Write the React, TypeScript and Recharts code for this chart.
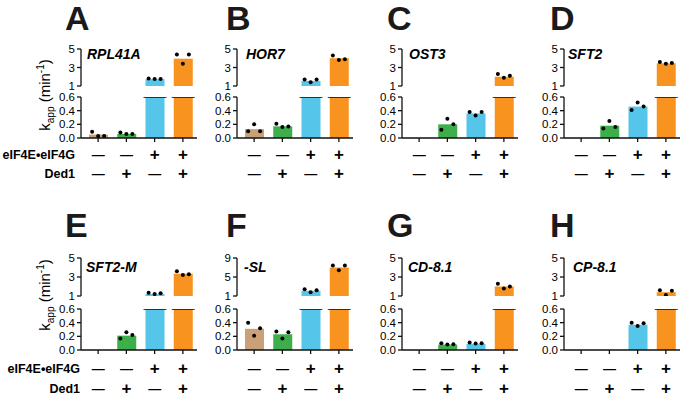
import React from 'react';
import { ComposedChart, Bar, Scatter, XAxis, YAxis, Cell } from 'recharts';

// conditions along x (eIF4E•eIF4G / Ded1)
const conditions = ['none', 'ded1', 'eif4', 'both'];
const eif4Row = ['—', '—', '+', '+'];
const ded1Row = ['—', '+', '—', '+'];
const barColors = ['#C9A077', '#3CAF4A', '#55C5EA', '#F7931E'];

const panelLetters = ['A', 'B', 'C', 'D', 'E', 'F', 'G', 'H'];
const geneNames = ['RPL41A', 'HOR7', 'OST3', 'SFT2', 'SFT2-M', '-SL', 'CD-8.1', 'CP-8.1'];
const topMax = [5, 5, 5, 5, 5, 9, 5, 5];
const topTicks5 = [1, 3, 5];
const topTicks9 = [1, 5, 9];
const bottomTicks = [0, 0.2, 0.4, 0.6];

// kapp (min-1), bar = mean, dots = replicates (left, middle, right)
const kappRPL41A = [0.05, 0.06, 1.75, 3.95];
const dotsRPL41A = [[0.09, 0.03, 0.03], [0.08, 0.06, 0.06], [1.8, 1.75, 1.75], [4.4, 3.4, 4.4]];
const kappHOR7 = [0.13, 0.17, 1.55, 4.0];
const dotsHOR7 = [[0.1, 0.2, 0.1], [0.21, 0.16, 0.17], [1.7, 1.4, 1.7], [4.3, 3.8, 3.9]];
const kappOST3 = [null, 0.2, 0.36, 2.0];
const dotsOST3 = [null, [0.12, 0.28, 0.2], [0.38, 0.33, 0.38], [2.3, 1.9, 2.1]];
const kappSFT2 = [null, 0.18, 0.46, 3.45];
const dotsSFT2 = [null, [0.14, 0.25, 0.16], [0.41, 0.52, 0.46], [3.6, 3.4, 3.5]];
const kappSFT2M = [null, 0.21, 1.2, 3.35];
const dotsSFT2M = [null, [0.17, 0.26, 0.22], [1.35, 1.2, 1.3], [3.6, 3.2, 3.3]];
const kappSL = [0.31, 0.23, 2.1, 7.0];
const dotsSL = [[0.4, 0.21, 0.32], [0.27, 0.17, 0.26], [2.4, 1.8, 2.2], [7.4, 6.4, 7.4]];
const kappCD81 = [null, 0.08, 0.09, 2.0];
const dotsCD81 = [null, [0.1, 0.08, 0.085], [0.11, 0.095, 0.1], [2.3, 1.8, 2.0]];
const kappCP81 = [null, null, 0.37, 1.4];
const dotsCP81 = [null, null, [0.4, 0.35, 0.39], [1.6, 1.1, 1.55]];

const panelMeans = [kappRPL41A, kappHOR7, kappOST3, kappSFT2, kappSFT2M, kappSL, kappCD81, kappCP81];
const panelDots = [dotsRPL41A, dotsHOR7, dotsOST3, dotsSFT2, dotsSFT2M, dotsSL, dotsCD81, dotsCP81];

// layout
const axisX = [81, 237, 402, 564];
const letterX = [65, 226, 387, 550];
const geneX = [[87, 246, 409, 568], [86, 244, 408, 573]];
const rows = [
  { topY: 49, topH: 37, botY: 97, botH: 41, signOffs: [12.5, 31.5], letterBase: 30, geneBase: 58.5, labelBase: [159, 178], labelRight: 75, kY: 95 },
  { topY: 258, topH: 38, botY: 309, botH: 41, signOffs: [14.5, 34], letterBase: 237, geneBase: 272, labelBase: [373, 393], labelRight: 80, kY: 295 },
];
const FONT = "Arial, 'Liberation Sans', Helvetica, sans-serif";
const Y_W = 30;
const PLOT_W = 116;
const RIGHT = 4;
const X_H = 56;
const TOP_PAD = 7;
const TOP_BOTTOM_PAD = 8;

const dotShape = (key: string, off: number) => (props: any) => {
  const { cx, cy, payload } = props;
  if (!payload || payload[key] == null || !isFinite(cx) || !isFinite(cy)) return <g />;
  return <circle cx={cx + off} cy={cy} r={2} fill="#000" />;
};

const topBarShape = (props: any) => {
  const { x, y, width, height, fill } = props;
  if (!height || height <= 0) return <g />;
  return (
    <g>
      <rect x={x} y={y} width={width} height={height} fill={fill} />
      <line x1={x - 2} x2={x + width + 2} y1={y + height + 1} y2={y + height + 1} stroke="#111" strokeWidth={1.6} />
    </g>
  );
};

const bottomBarShape = (props: any) => {
  const { x, y, width, height, fill, payload } = props;
  if (!height || height <= 0) return <g />;
  return (
    <g>
      <rect x={x} y={y} width={width} height={height} fill={fill} />
      {payload && payload.full > 0.6 && (
        <line x1={x - 2} x2={x + width + 2} y1={y} y2={y} stroke="#111" strokeWidth={1.6} />
      )}
    </g>
  );
};

const SignTick = (props: any) => {
  const { x, y, payload, offs } = props;
  const i = conditions.indexOf(payload.value);
  const sign = (s: string, dy: number) => (
    <text x={x} y={y + dy} textAnchor="middle" dominantBaseline="central" fontSize={s === '+' ? 17 : 13} fontWeight="bold" fill="#000">
      {s}
    </text>
  );
  return (
    <g>
      {sign(eif4Row[i], offs[0])}
      {sign(ded1Row[i], offs[1])}
    </g>
  );
};

function Panel({ idx }: { idx: number }) {
  const row = rows[Math.floor(idx / 4)];
  const col = idx % 4;
  const means = panelMeans[idx];
  const dots = panelDots[idx];
  const left = axisX[col] - Y_W;
  const width = Y_W + PLOT_W + RIGHT;

  const topData = conditions.map((c, i) => {
    const m = means[i];
    const d = dots[i] || [];
    return {
      cat: c,
      bar: m != null && m > 1 ? m : null,
      d0: d[0] != null && d[0] > 1 ? d[0] : null,
      d1: d[1] != null && d[1] > 1 ? d[1] : null,
      d2: d[2] != null && d[2] > 1 ? d[2] : null,
    };
  });
  const botData = conditions.map((c, i) => {
    const m = means[i];
    const d = dots[i] || [];
    return {
      cat: c,
      full: m,
      bar: m != null ? Math.min(m, 0.6) : null,
      d0: d[0] != null && d[0] <= 0.6 ? d[0] : null,
      d1: d[1] != null && d[1] <= 0.6 ? d[1] : null,
      d2: d[2] != null && d[2] <= 0.6 ? d[2] : null,
    };
  });

  const axisStyle = { stroke: '#111', strokeWidth: 1.3 };
  const tickStyle = { fontSize: 11.5, fill: '#000' };
  const tTicks = topMax[idx] === 9 ? topTicks9 : topTicks5;

  return (
    <>
      <div style={{ position: 'absolute', left, top: row.topY - TOP_PAD }}>
        <ComposedChart width={width} height={TOP_PAD + row.topH + TOP_BOTTOM_PAD} data={topData} margin={{ top: TOP_PAD, right: RIGHT, bottom: TOP_BOTTOM_PAD, left: 0 }}>
          <XAxis dataKey="cat" hide padding={{ left: 3, right: 0 }} />
          <YAxis width={Y_W} domain={[1, topMax[idx]]} ticks={tTicks} interval={0} allowDataOverflow tick={tickStyle} tickSize={4} tickMargin={2} axisLine={axisStyle} tickLine={axisStyle} />
          <Bar dataKey="bar" barSize={19} isAnimationActive={false} shape={topBarShape}>
            {conditions.map((c, i) => <Cell key={c} fill={barColors[i]} />)}
          </Bar>
          <Scatter dataKey="d0" isAnimationActive={false} shape={dotShape('d0', -6)} />
          <Scatter dataKey="d1" isAnimationActive={false} shape={dotShape('d1', 0)} />
          <Scatter dataKey="d2" isAnimationActive={false} shape={dotShape('d2', 6)} />
        </ComposedChart>
      </div>
      <div style={{ position: 'absolute', left, top: row.botY - 6 }}>
        <ComposedChart width={width} height={6 + row.botH + X_H} data={botData} margin={{ top: 6, right: RIGHT, bottom: 0, left: 0 }}>
          <XAxis
            dataKey="cat"
            height={X_H}
            padding={{ left: 3, right: 0 }}
            interval={0}
            tickSize={4}
            tickMargin={0}
            axisLine={axisStyle}
            tickLine={axisStyle}
            tick={(p: any) => <SignTick {...p} offs={row.signOffs} />}
          />
          <YAxis width={Y_W} domain={[0, 0.6]} ticks={bottomTicks} interval={0} allowDataOverflow tickFormatter={(v: number) => v.toFixed(1)} tick={tickStyle} tickSize={4} tickMargin={2} axisLine={axisStyle} tickLine={axisStyle} />
          <Bar dataKey="bar" barSize={19} isAnimationActive={false} shape={bottomBarShape}>
            {conditions.map((c, i) => <Cell key={c} fill={barColors[i]} />)}
          </Bar>
          <Scatter dataKey="d0" isAnimationActive={false} shape={dotShape('d0', -6)} />
          <Scatter dataKey="d1" isAnimationActive={false} shape={dotShape('d1', 0)} />
          <Scatter dataKey="d2" isAnimationActive={false} shape={dotShape('d2', 6)} />
        </ComposedChart>
      </div>
    </>
  );
}

export default function App() {
  return (
    <div style={{ position: 'absolute', left: 0, top: 0, width: 690, height: 403, background: '#fff', fontFamily: FONT, overflow: 'hidden' }}>
      {panelLetters.map((l, i) => <Panel key={l} idx={i} />)}
      <svg width={690} height={403} style={{ position: 'absolute', left: 0, top: 0, pointerEvents: 'none' }} fontFamily={FONT}>
        {panelLetters.map((l, i) => {
          const row = rows[Math.floor(i / 4)];
          return (
            <text key={l} x={letterX[i % 4]} y={row.letterBase} fontSize={34} fontWeight="bold" fill="#1a1a1a">
              {l}
            </text>
          );
        })}
        {geneNames.map((g, i) => {
          const r = Math.floor(i / 4);
          return (
            <text key={g} x={geneX[r][i % 4]} y={rows[r].geneBase} fontSize={14} fontWeight="bold" fontStyle="italic" fill="#000">
              {g}
            </text>
          );
        })}
        {rows.map((row, r) => (
          <g key={r}>
            <text x={row.labelRight} y={row.labelBase[0]} textAnchor="end" fontSize={12.5} fontWeight="bold" fill="#000">
              eIF4E•eIF4G
            </text>
            <text x={row.labelRight} y={row.labelBase[1]} textAnchor="end" fontSize={12.5} fontWeight="bold" fill="#000">
              Ded1
            </text>
            <text transform={`translate(50, ${row.kY}) rotate(-90)`} textAnchor="middle" fontSize={15} fill="#000">
              k
              <tspan fontSize={10} dy={4}>app</tspan>
              <tspan dy={-4}> (min</tspan>
              <tspan fontSize={10} dy={-6}>-1</tspan>
              <tspan dy={6}>)</tspan>
            </text>
          </g>
        ))}
      </svg>
    </div>
  );
}
